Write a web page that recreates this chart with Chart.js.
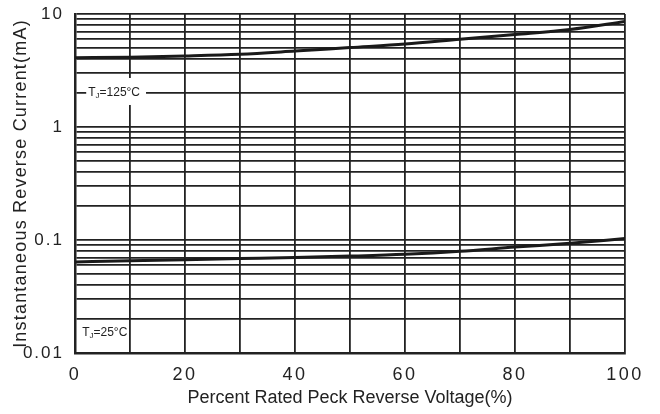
<!DOCTYPE html>
<html><head><meta charset="utf-8">
<script src="https://cdn.jsdelivr.net/npm/chart.js@4.4.0/dist/chart.umd.min.js"></script>
<style>html,body{margin:0;padding:0;background:#fff}#wrap{width:660px;height:414px}</style>
</head><body><div id="wrap"><canvas id="c" width="660" height="414"></canvas></div>
<script>
// ---- data ----
const voltagePercent = [0, 10, 20, 30, 40, 50, 60, 70, 80, 90, 100];
const current125C = [4.1, 4.15, 4.25, 4.4, 4.7, 5.05, 5.42, 5.98, 6.58, 7.3, 8.6];
const current25C = [0.064, 0.0655, 0.067, 0.0685, 0.070, 0.072, 0.0747, 0.0794, 0.0866, 0.0935, 0.103];
const xTickValues = [0, 10, 20, 30, 40, 50, 60, 70, 80, 90, 100];
const xLabelValues = [0, 20, 40, 60, 80, 100];
const xLabelTexts = ['0', '20', '40', '60', '80', '100'];
const yTickValues = [0.01,0.02,0.03,0.04,0.05,0.06,0.07,0.08,0.09,
                     0.1,0.2,0.3,0.4,0.5,0.6,0.7,0.8,0.9,
                     1,2,3,4,5,6,7,8,9,10];
const yLabelValues = [0.01, 0.1, 1, 10];
const yLabelTexts = ['0.01', '0.1', '1', '10'];
const xTitle = 'Percent Rated Peck Reverse Voltage(%)';
const yTitle = 'Instantaneous Reverse Current(mA)';
const seriesLabels = [
  {main: 'T', sub: 'J', rest: '=125°C', x: 2.4, y: 2, box: true},
  {main: 'T', sub: 'J', rest: '=25°C', x: 1.3, y: 0.015, box: false}
];

const INK = '#222';
const FAM = "'Liberation Sans', Arial, sans-serif";

function findLabel(vals, texts, v) {
  for (let i = 0; i < vals.length; i++) if (Math.abs(vals[i] - v) < 1e-9 * Math.max(1, v)) return texts[i];
  return '';
}

const spacing = {
  id: 'spacing',
  afterUpdate(chart) {
    const cfg = [['x', 'drawLabels', '2.5px'], ['y', 'drawLabels', '2px'], ['y', 'drawTitle', '1.2px']];
    cfg.forEach(([id, fn, sp]) => {
      const s = chart.scales[id];
      const flag = '_wrap_' + fn;
      if (!s || s[flag]) return;
      const orig = s[fn];
      s[fn] = function (...args) {
        const ctx = this.ctx; ctx.save(); ctx.letterSpacing = sp;
        orig.apply(this, args); ctx.restore();
      };
      s[flag] = true;
    });
  }
};

const annot = {
  id: 'annot',
  afterDatasetsDraw(chart) {
    const {ctx, scales: {x, y}} = chart;
    seriesLabels.forEach(a => {
      const px = x.getPixelForValue(a.x), py = y.getPixelForValue(a.y);
      ctx.save();
      ctx.textBaseline = 'middle';
      ctx.font = '12px ' + FAM;
      const w1 = ctx.measureText(a.main).width;
      const w3 = ctx.measureText(a.rest).width;
      ctx.font = '8px ' + FAM;
      const w2 = ctx.measureText(a.sub).width;
      const total = w1 + w2 + w3;
      if (a.box) {
        ctx.fillStyle = '#fff';
        ctx.fillRect(px - 2, py - 15, total + 8, 27);
      }
      ctx.fillStyle = INK;
      ctx.font = '12px ' + FAM;
      ctx.fillText(a.main, px, py);
      ctx.font = '8px ' + FAM;
      ctx.fillText(a.sub, px + w1, py + 3);
      ctx.font = '12px ' + FAM;
      ctx.fillText(a.rest, px + w1 + w2, py);
      ctx.restore();
    });
  }
};

new Chart(document.getElementById('c'), {
  type: 'line',
  data: {
    labels: voltagePercent,
    datasets: [
      {data: voltagePercent.map((v, i) => ({x: v, y: current125C[i]})), borderColor: '#1a1a1a', borderWidth: 3, pointRadius: 0, cubicInterpolationMode: 'monotone', fill: false},
      {data: voltagePercent.map((v, i) => ({x: v, y: current25C[i]})), borderColor: '#1a1a1a', borderWidth: 3, pointRadius: 0, cubicInterpolationMode: 'monotone', fill: false}
    ]
  },
  options: {
    responsive: false,
    animation: false,
    layout: {padding: {left: 0, top: 14, right: 35, bottom: 0}},
    plugins: {legend: {display: false}, tooltip: {enabled: false}},
    scales: {
      x: {
        type: 'linear', min: 0, max: 100,
        afterBuildTicks: s => { s.ticks = xTickValues.map(v => ({value: v})); },
        afterFit: s => { s.height = 61; s.paddingLeft = 0; s.paddingRight = 0; },
        ticks: {autoSkip: false, maxRotation: 0, minRotation: 0, padding: 11, color: INK,
                font: {family: FAM, size: 18},
                callback: v => findLabel(xLabelValues, xLabelTexts, v)},
        grid: {color: INK, lineWidth: 1.8, drawTicks: false},
        border: {color: INK, width: 2.5},
        title: {display: true, text: xTitle, color: INK, font: {family: FAM, size: 18}, padding: {top: 0, bottom: 5}}
      },
      y: {
        type: 'logarithmic', min: 0.01, max: 10,
        afterBuildTicks: s => { s.ticks = yTickValues.map(v => ({value: v})); },
        afterFit: s => { s.width = 75; s.paddingTop = 0; s.paddingBottom = 0; },
        ticks: {autoSkip: false, padding: 11, color: INK,
                font: {family: FAM, size: 17},
                callback: v => findLabel(yLabelValues, yLabelTexts, v)},
        grid: {color: INK, lineWidth: 1.8, drawTicks: false},
        border: {color: INK, width: 2.5},
        title: {display: true, text: yTitle, color: INK, font: {family: FAM, size: 18}, padding: {top: 10, bottom: 0}}
      }
    }
  },
  plugins: [spacing, annot]
});
</script></body></html>
